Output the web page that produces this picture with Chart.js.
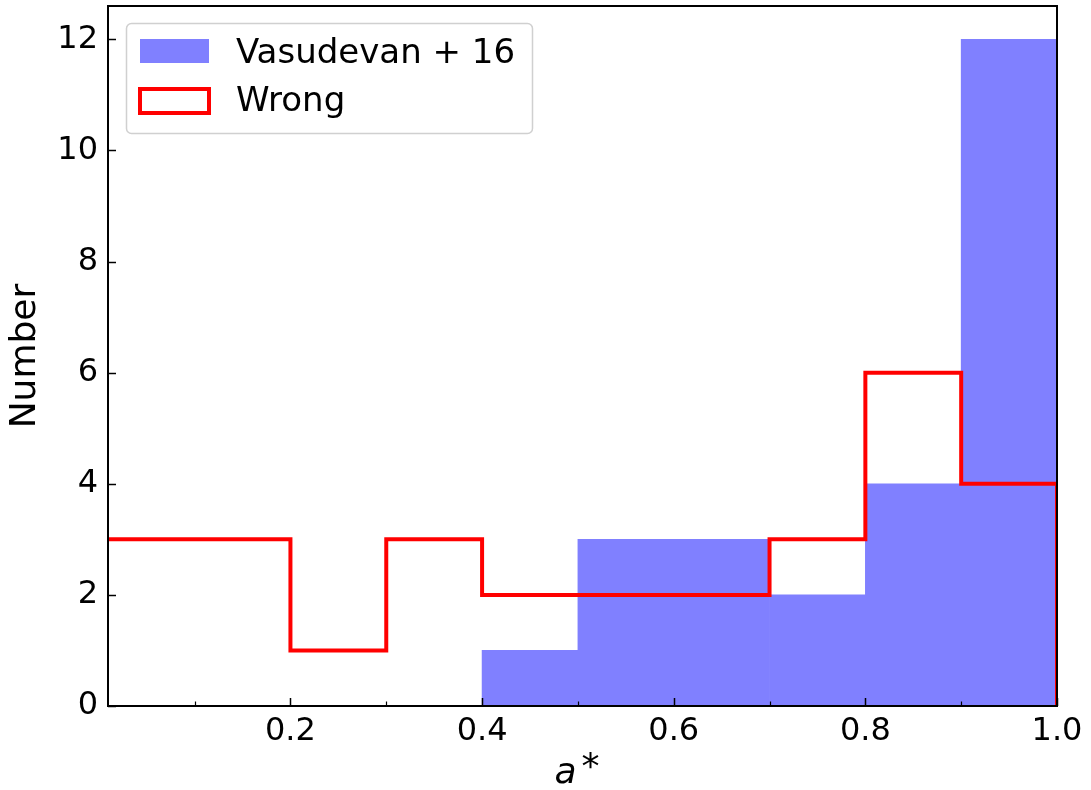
<!DOCTYPE html>
<html lang="en">
<head>
    <meta charset="UTF-8">
    <title>a* histogram</title>
    <script src="https://cdn.jsdelivr.net/npm/chart.js"></script>
    <style>
        body { margin: 0; background: #fff; }
    </style>
</head>
<body>
    <canvas id="histChart" width="1091" height="790"></canvas>

    <script>
        // bin edges (0.0 .. 1.0, width 0.1)
        const binEdges = [0.0, 0.1, 0.2, 0.3, 0.4, 0.5, 0.6, 0.7, 0.8, 0.9, 1.0];
        // counts per bin
        const vasudevanCounts = [0, 0, 0, 0, 1, 3, 3, 2, 4, 12];
        const wrongCounts = [3, 3, 1, 3, 2, 2, 2, 3, 6, 4];

        const seriesLabels = ['Vasudevan + 16', 'Wrong'];
        const xMajorTicks = [0.2, 0.4, 0.6, 0.8, 1.0];
        const xMinorTicks = [0.1, 0.3, 0.5, 0.7, 0.9];
        const yTicks = [0, 2, 4, 6, 8, 10, 12];

        const FONT = "'DejaVu Sans', sans-serif";

        // bars at bin centres
        const barData = [];
        vasudevanCounts.forEach((c, i) => {
            if (c > 0) barData.push({ x: (binEdges[i] + binEdges[i + 1]) / 2, y: c });
        });

        // step outline: each point holds the count of the bin ending at it
        const stepData = [{ x: binEdges[0], y: 0 }];
        wrongCounts.forEach((c, i) => {
            if (i === 0) stepData.push({ x: binEdges[0], y: c });
            stepData.push({ x: binEdges[i + 1], y: c });
        });
        stepData.push({ x: binEdges[binEdges.length - 1], y: 0 });

        // ticks, frame and legend box like matplotlib
        const axesDecor = {
            id: 'axesDecor',
            afterDatasetsDraw(chart) {
                const { ctx, chartArea: a, scales } = chart;
                const xs = scales.x, ys = scales.y;
                ctx.save();
                ctx.strokeStyle = '#000';
                ctx.lineWidth = 1.5;
                xMajorTicks.forEach(v => {
                    const px = Math.round(xs.getPixelForValue(v)) + 0.5;
                    ctx.beginPath(); ctx.moveTo(px, a.bottom); ctx.lineTo(px, a.bottom - 8); ctx.stroke();
                });
                ctx.lineWidth = 1.2;
                xMinorTicks.forEach(v => {
                    const px = Math.round(xs.getPixelForValue(v)) + 0.5;
                    ctx.beginPath(); ctx.moveTo(px, a.bottom); ctx.lineTo(px, a.bottom - 4.5); ctx.stroke();
                });
                ctx.lineWidth = 1.5;
                yTicks.forEach(v => {
                    const py = Math.round(ys.getPixelForValue(v)) + 0.5;
                    ctx.beginPath(); ctx.moveTo(a.left, py); ctx.lineTo(a.left + 8, py); ctx.stroke();
                });
                ctx.lineWidth = 2;
                ctx.strokeRect(a.left, a.top, a.right - a.left, a.bottom - a.top);

                // x axis label: italic a with raised asterisk
                const cx = (a.left + a.right) / 2;
                ctx.fillStyle = '#000';
                ctx.textBaseline = 'alphabetic';
                ctx.textAlign = 'left';
                ctx.font = 'italic 36px ' + FONT;
                ctx.fillText('a', cx - 28, 783);
                ctx.font = '36px ' + FONT;
                ctx.fillText('*', cx - 1, 778);
                ctx.restore();
            },
            afterDraw(chart) {
                const { ctx } = chart;
                const ds = chart.data.datasets;
                ctx.save();
                // frame
                const fx = 126.5, fy = 23.5, fw = 406, fh = 110, r = 5;
                ctx.beginPath();
                ctx.roundRect(fx, fy, fw, fh, r);
                ctx.fillStyle = 'rgba(255,255,255,0.8)';
                ctx.fill();
                ctx.strokeStyle = '#d0d0d0';
                ctx.lineWidth = 1.5;
                ctx.stroke();
                // patches
                ctx.fillStyle = ds[0].backgroundColor;
                ctx.fillRect(140, 39, 69, 24);
                ctx.strokeStyle = ds[1].borderColor;
                ctx.lineWidth = 4;
                ctx.strokeRect(140, 89, 69, 24);
                // labels
                ctx.fillStyle = '#000';
                ctx.font = '34px ' + FONT;
                ctx.textBaseline = 'alphabetic';
                ctx.fillText(ds[0].label, 236, 63);
                ctx.fillText(ds[1].label, 236, 111);
                ctx.restore();
            }
        };

        const noPad = s => { s.paddingTop = 0; s.paddingBottom = 0; s.paddingLeft = 0; s.paddingRight = 0; };

        const ctx = document.getElementById('histChart').getContext('2d');
        const histChart = new Chart(ctx, {
            type: 'bar',
            data: {
                datasets: [{
                    label: seriesLabels[0],
                    data: barData,
                    backgroundColor: '#8080ff',
                    borderWidth: 0,
                    barPercentage: 1.0,
                    categoryPercentage: 1.0,
                    order: 2
                }, {
                    type: 'line',
                    label: seriesLabels[1],
                    data: stepData,
                    stepped: 'after',
                    borderColor: '#ff0000',
                    backgroundColor: 'transparent',
                    borderWidth: 4,
                    pointRadius: 0,
                    fill: false,
                    clip: 0,
                    order: 1
                }]
            },
            options: {
                responsive: false,
                animation: false,
                devicePixelRatio: 1,
                layout: { padding: { top: 6, right: 34, left: 0, bottom: 0 } },
                plugins: {
                    legend: { display: false },
                    tooltip: { enabled: false }
                },
                scales: {
                    x: {
                        type: 'linear',
                        offset: false,
                        min: 0.0096,
                        max: 1.0,
                        grid: { display: false, drawTicks: false },
                        border: { display: false },
                        afterBuildTicks: s => { s.ticks = xMajorTicks.map(v => ({ value: v })); },
                        afterFit: s => { s.height = 84; noPad(s); },
                        ticks: {
                            padding: 6,
                            color: '#000',
                            font: { family: FONT, size: 32 },
                            callback: v => v.toFixed(1)
                        }
                    },
                    y: {
                        min: 0,
                        max: 12.6,
                        grid: { display: false, drawTicks: false },
                        border: { display: false },
                        afterBuildTicks: s => { s.ticks = yTicks.map(v => ({ value: v })); },
                        afterFit: s => { s.width = 108; noPad(s); },
                        ticks: {
                            padding: 10,
                            color: '#000',
                            font: { family: FONT, size: 32 }
                        },
                        title: {
                            display: true,
                            text: 'Number',
                            color: '#000',
                            padding: { top: 4, bottom: 0 },
                            font: { family: FONT, size: 36 }
                        }
                    }
                }
            },
            plugins: [axesDecor]
        });
    </script>
</body>
</html>
